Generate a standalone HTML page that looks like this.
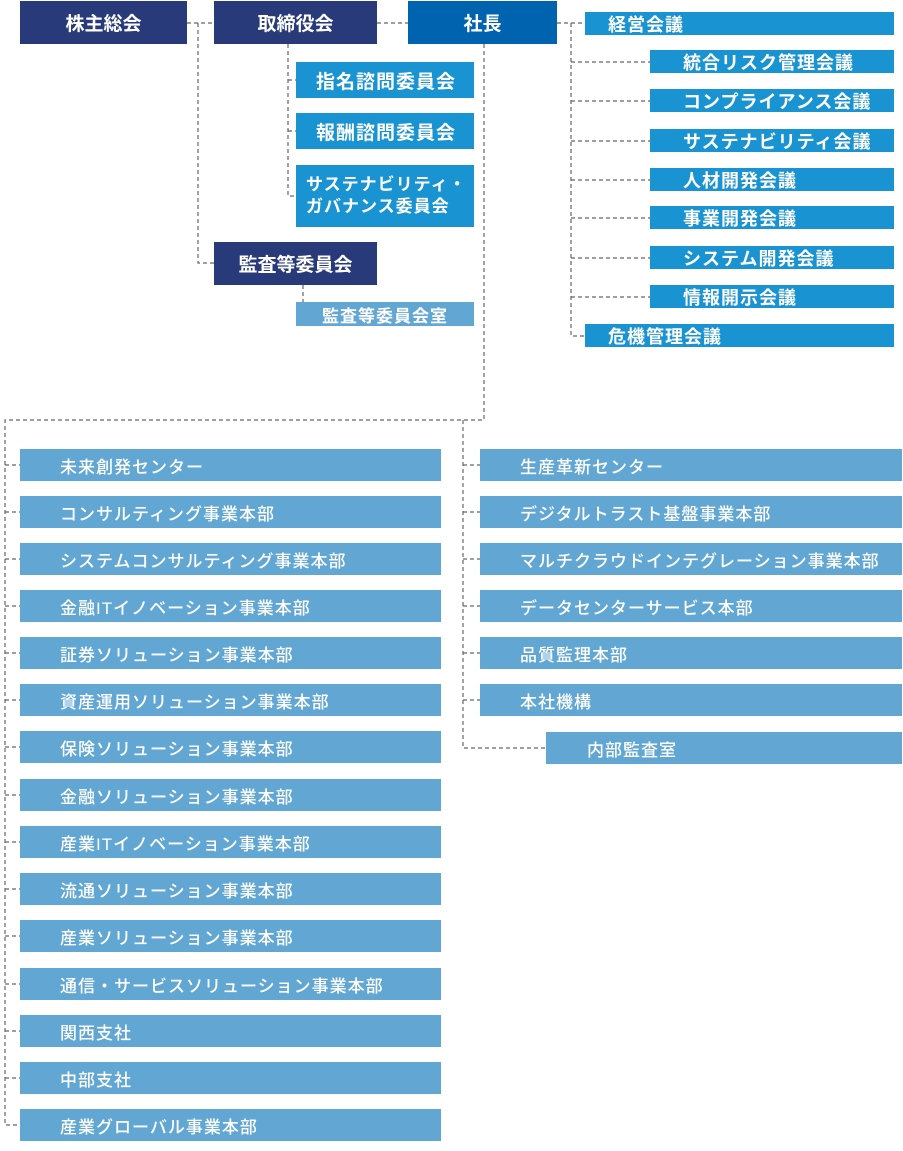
<!DOCTYPE html>
<html><head><meta charset="utf-8"><style>
body{margin:0;width:903px;height:1151px;background:#fff;position:relative;overflow:hidden;font-family:"Liberation Sans","Noto Sans CJK JP",sans-serif;font-weight:bold;color:#fff}
.b{position:absolute;box-sizing:border-box;display:flex;align-items:center;white-space:nowrap}
.n{background:#283a7a;justify-content:center;font-size:19px}
.p{background:#0063b0;justify-content:center;font-size:19px}
.c{background:#1a93d2;font-size:18px;letter-spacing:1px}
.l{background:#62a7d3;font-size:17px;font-weight:500;letter-spacing:1px}
svg{position:absolute;left:0;top:0}
</style></head><body>
<svg width="903" height="1151"><g stroke="#666" stroke-width="1.2" stroke-dasharray="4,3" fill="none">
<path d="M187 23H214M198 23V263H214M377 23H408M288 44V196H296M288 80H296M288 131H296M303 285V302"/>
<path d="M557 23H585M571 23V336H585M571 62H650M571 101H650M571 141H650M571 180H650M571 218H650M571 258H650M571 297H650"/>
<path d="M484 44V420H5V1125H20M463 420V748H546"/>
<path d="M5 465H20M5 512H20M5 559H20M5 606H20M5 653H20M5 700H20M5 747H20M5 795H20M5 842H20M5 889H20M5 936H20M5 984H20M5 1031H20M5 1078H20"/>
<path d="M463 465H480M463 512H480M463 559H480M463 606H480M463 653H480M463 700H480"/>
</g></svg>
<div class="b n" style="left:20px;top:1px;width:167px;height:43px">株主総会</div>
<div class="b n" style="left:214px;top:1px;width:163px;height:43px">取締役会</div>
<div class="b p" style="left:408px;top:1px;width:149px;height:43px">社長</div>
<div class="b c" style="left:296px;top:62px;width:178px;height:36px;padding-left:20px;font-size:19px">指名諮問委員会</div>
<div class="b c" style="left:296px;top:113px;width:178px;height:36px;padding-left:20px;font-size:19px">報酬諮問委員会</div>
<div class="b c" style="left:296px;top:165px;width:178px;height:62px;padding-left:10px;white-space:normal;line-height:22px;font-size:17px">サステナビリティ・<br>ガバナンス委員会</div>
<div class="b n" style="left:214px;top:242px;width:163px;height:43px">監査等委員会</div>
<div class="b l" style="left:296px;top:302px;width:178px;height:24px;padding-left:26px;font-weight:bold">監査等委員会室</div>
<div class="b c" style="left:585px;top:12px;width:309px;height:23px;padding-left:23px">経営会議</div>
<div class="b c" style="left:650px;top:50px;width:244px;height:23px;padding-left:33px">統合リスク管理会議</div>
<div class="b c" style="left:650px;top:89px;width:244px;height:23px;padding-left:33px">コンプライアンス会議</div>
<div class="b c" style="left:650px;top:129px;width:244px;height:23px;padding-left:33px">サステナビリティ会議</div>
<div class="b c" style="left:650px;top:168px;width:244px;height:23px;padding-left:33px">人材開発会議</div>
<div class="b c" style="left:650px;top:206px;width:244px;height:23px;padding-left:33px">事業開発会議</div>
<div class="b c" style="left:650px;top:246px;width:244px;height:23px;padding-left:33px">システム開発会議</div>
<div class="b c" style="left:650px;top:285px;width:244px;height:23px;padding-left:33px">情報開示会議</div>
<div class="b c" style="left:585px;top:324px;width:309px;height:23px;padding-left:23px">危機管理会議</div>

<div class="b l" style="left:20px;top:449px;width:421px;height:32px;padding-left:40px">未来創発センター</div>
<div class="b l" style="left:20px;top:496px;width:421px;height:32px;padding-left:40px">コンサルティング事業本部</div>
<div class="b l" style="left:20px;top:543px;width:421px;height:32px;padding-left:40px">システムコンサルティング事業本部</div>
<div class="b l" style="left:20px;top:590px;width:421px;height:32px;padding-left:40px">金融ITイノベーション事業本部</div>
<div class="b l" style="left:20px;top:637px;width:421px;height:32px;padding-left:40px">証券ソリューション事業本部</div>
<div class="b l" style="left:20px;top:684px;width:421px;height:32px;padding-left:40px">資産運用ソリューション事業本部</div>
<div class="b l" style="left:20px;top:731px;width:421px;height:32px;padding-left:40px">保険ソリューション事業本部</div>
<div class="b l" style="left:20px;top:779px;width:421px;height:32px;padding-left:40px">金融ソリューション事業本部</div>
<div class="b l" style="left:20px;top:826px;width:421px;height:32px;padding-left:40px">産業ITイノベーション事業本部</div>
<div class="b l" style="left:20px;top:873px;width:421px;height:32px;padding-left:40px">流通ソリューション事業本部</div>
<div class="b l" style="left:20px;top:920px;width:421px;height:32px;padding-left:40px">産業ソリューション事業本部</div>
<div class="b l" style="left:20px;top:968px;width:421px;height:32px;padding-left:40px">通信・サービスソリューション事業本部</div>
<div class="b l" style="left:20px;top:1015px;width:421px;height:32px;padding-left:40px">関西支社</div>
<div class="b l" style="left:20px;top:1062px;width:421px;height:32px;padding-left:40px">中部支社</div>
<div class="b l" style="left:20px;top:1109px;width:421px;height:32px;padding-left:40px">産業グローバル事業本部</div>

<div class="b l" style="left:480px;top:449px;width:422px;height:32px;padding-left:40px">生産革新センター</div>
<div class="b l" style="left:480px;top:496px;width:422px;height:32px;padding-left:40px">デジタルトラスト基盤事業本部</div>
<div class="b l" style="left:480px;top:543px;width:422px;height:32px;padding-left:40px">マルチクラウドインテグレーション事業本部</div>
<div class="b l" style="left:480px;top:590px;width:422px;height:32px;padding-left:40px">データセンターサービス本部</div>
<div class="b l" style="left:480px;top:637px;width:422px;height:32px;padding-left:40px">品質監理本部</div>
<div class="b l" style="left:480px;top:684px;width:422px;height:32px;padding-left:40px">本社機構</div>
<div class="b l" style="left:546px;top:732px;width:356px;height:32px;padding-left:41px">内部監査室</div>
</body></html>
